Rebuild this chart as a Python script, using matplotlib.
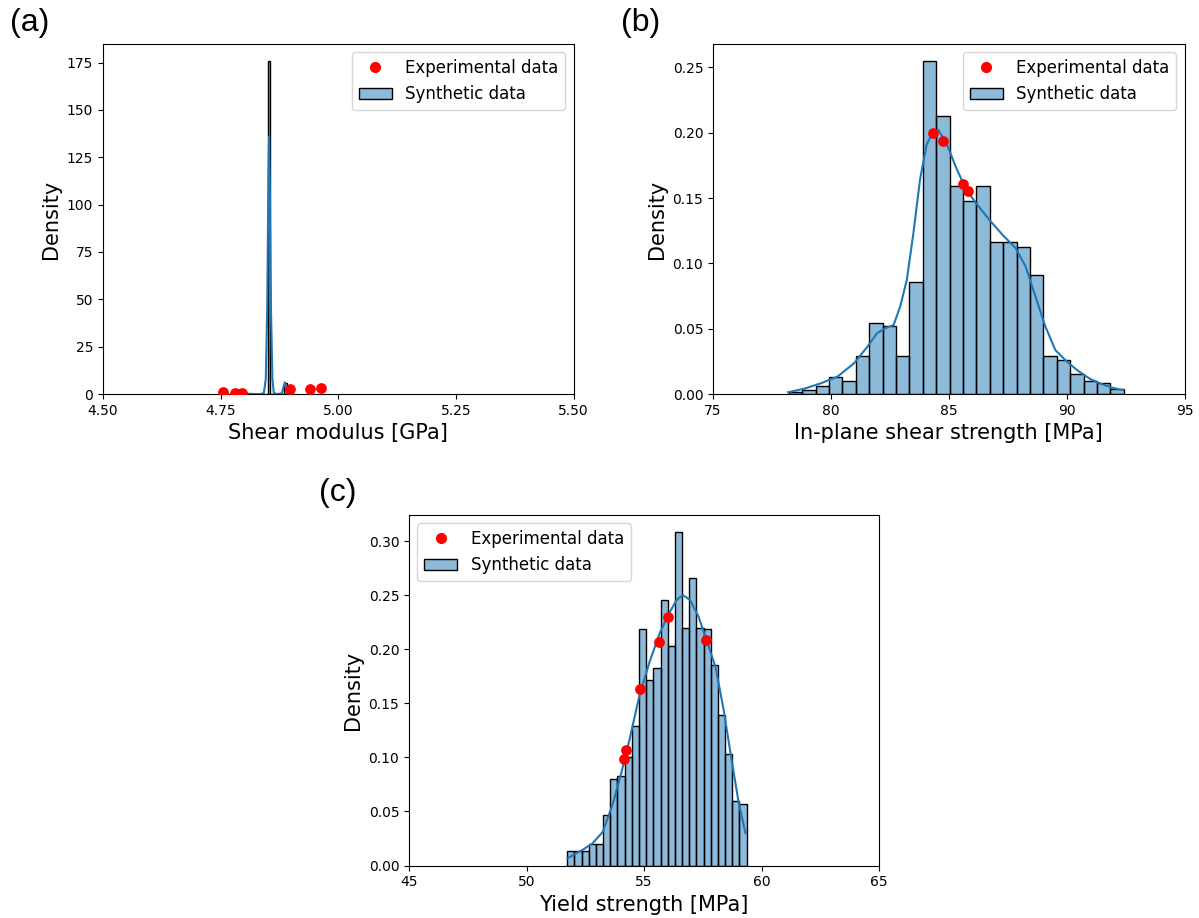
import numpy as np
import matplotlib
matplotlib.use("Agg")
import matplotlib.pyplot as plt
from matplotlib.patches import Patch
from matplotlib.lines import Line2D

# ---------------- data: panel (a) ----------------
a_bin_start = 4.7755
a_bin_width = 0.005
a_heights = [0.8, 0.9, 0.8, 0.7, 0.5, 0, 0, 0, 0, 0, 0, 0, 0, 0, 0, 176.0,
             0, 0, 0, 0, 0, 0, 5.6]
a_kde_x = [4.7755, 4.785, 4.795, 4.805, 4.82, 4.835, 4.842, 4.846, 4.849,
           4.8515, 4.853, 4.8545, 4.857, 4.860, 4.863, 4.870, 4.880, 4.884,
           4.8867, 4.889, 4.8905]
a_kde_y = [0.7, 0.8, 0.6, 0.2, 0.0, 0.0, 0.5, 8, 45, 112, 136, 112, 45, 8,
           0.5, 0.0, 0.3, 4, 6.2, 4, 2.5]
a_exp_x = [4.754, 4.780, 4.795, 4.898, 4.940, 4.964]
a_exp_y = [1.0, 0.4, 0.4, 2.8, 2.8, 3.0]
a_xticks = [4.50, 4.75, 5.00, 5.25, 5.50]
a_yticks = [0, 25, 50, 75, 100, 125, 150, 175]

# ---------------- data: panel (b) ----------------
b_bin_start = 78.22
b_bin_width = 0.568
b_heights = [0.0013, 0.0030, 0.0064, 0.0133, 0.0102, 0.0294, 0.0542, 0.0523,
             0.0294, 0.0856, 0.2552, 0.2125, 0.1596, 0.1474, 0.1596, 0.1160,
             0.1160, 0.1124, 0.0912, 0.0294, 0.0260, 0.0155, 0.0100, 0.0085,
             0.0035]
b_kde_x = [78.18, 78.88, 79.58, 80.28, 80.98, 81.54, 81.96, 82.31, 82.66,
           82.94, 83.22, 83.50, 83.78, 84.06, 84.34, 84.55, 84.90, 85.32,
           85.74, 86.16, 86.72, 87.28, 87.84, 88.26, 88.68, 89.10, 89.52,
           90.01, 90.5, 91.0, 91.5, 92.0, 92.4]
b_kde_y = [0.0013, 0.0041, 0.0082, 0.0133, 0.0235, 0.036, 0.0466, 0.0503,
           0.0528, 0.0669, 0.0873, 0.1231, 0.164, 0.1908, 0.201, 0.2023,
           0.1921, 0.173, 0.1563, 0.1461, 0.1334, 0.1219, 0.1116, 0.0976,
           0.0746, 0.0516, 0.0337, 0.0248, 0.0175, 0.0115, 0.0075, 0.0045,
           0.003]
b_exp_x = [84.34, 84.76, 85.60, 85.81]
b_exp_y = [0.1998, 0.1935, 0.161, 0.1557]
b_xticks = [75, 80, 85, 90, 95]
b_yticks = [0.00, 0.05, 0.10, 0.15, 0.20, 0.25]

# ---------------- data: panel (c) ----------------
c_bin_start = 51.735
c_bin_width = 0.3053
c_heights = [0.0134, 0.0134, 0.0134, 0.0199, 0.0199, 0.0468, 0.0798, 0.0832,
             0.100, 0.129, 0.219, 0.172, 0.183, 0.246, 0.203, 0.309, 0.2196,
             0.266, 0.2196, 0.219, 0.186, 0.139, 0.103, 0.0597, 0.0566]
c_kde_x = [51.74, 52.38, 52.81, 53.24, 53.67, 54.03, 54.38, 54.81, 55.24,
           55.67, 56.03, 56.39, 56.65, 56.96, 57.32, 57.68, 58.04, 58.39,
           58.75, 59.04, 59.32]
c_kde_y = [0.0067, 0.0144, 0.0205, 0.031, 0.057, 0.0853, 0.1162, 0.1578,
           0.1887, 0.215, 0.232, 0.2458, 0.2504, 0.2458, 0.2304, 0.2072,
           0.184, 0.144, 0.0946, 0.057, 0.0298]
c_exp_x = [54.13, 54.24, 54.84, 55.62, 56.00, 57.65]
c_exp_y = [0.0986, 0.107, 0.1634, 0.2072, 0.2304, 0.2088]
c_xticks = [45, 50, 55, 60, 65]
c_yticks = [0.00, 0.05, 0.10, 0.15, 0.20, 0.25, 0.30]

labels = ["Experimental data", "Synthetic data"]

# ---------------- styling ----------------
plt.rcParams['font.family'] = ['DejaVu Sans']
C0 = '#1f77b4'
FACE = (0.122, 0.467, 0.706, 0.5)

fig = plt.figure(figsize=(11.99, 9.18), dpi=100)
W, H = 1199, 918


def make_axes(left, top, right, bottom):
    return fig.add_axes([left / W, 1 - bottom / H, (right - left) / W, (bottom - top) / H])


def draw(ax, start, width, heights, kx, ky, ex, ey, xlim, xticks, yticks,
         xlabel, yfmt, legend_loc):
    n = len(heights)
    edges = start + width * np.arange(n + 1)
    ax.bar(edges[:-1], heights, width=width, align='edge', facecolor=FACE,
           edgecolor='black', linewidth=1.0)
    ax.plot(kx, ky, color=C0, lw=1.5)
    ax.scatter(ex, ey, color='red', s=45, zorder=5)
    ax.set_xlim(*xlim)
    ax.set_ylim(0, max(heights) * 1.05)
    ax.set_xticks(xticks)
    ax.set_yticks(yticks)
    ax.xaxis.set_major_formatter(plt.FormatStrFormatter(yfmt[0]))
    ax.yaxis.set_major_formatter(plt.FormatStrFormatter(yfmt[1]))
    ax.tick_params(labelsize=10)
    ax.set_xlabel(xlabel, fontsize=15)
    ax.set_ylabel("Density", fontsize=15)
    handles = [Line2D([], [], marker='o', color='red', linestyle='none', markersize=7),
               Patch(facecolor=FACE, edgecolor='black', linewidth=1.0)]
    ax.legend(handles, labels, loc=legend_loc, fontsize=12)


ax_a = make_axes(103, 44, 573.5, 394)
draw(ax_a, a_bin_start, a_bin_width, a_heights, a_kde_x, a_kde_y,
     a_exp_x, a_exp_y, (4.5, 5.5), a_xticks, a_yticks,
     "Shear modulus [GPa]", ('%.2f', '%d'), 'upper right')

ax_b = make_axes(713, 44, 1184.5, 394)
draw(ax_b, b_bin_start, b_bin_width, b_heights, b_kde_x, b_kde_y,
     b_exp_x, b_exp_y, (75, 95), b_xticks, b_yticks,
     "In-plane shear strength [MPa]", ('%d', '%.2f'), 'upper right')

ax_c = make_axes(409, 515, 879, 865.5)
draw(ax_c, c_bin_start, c_bin_width, c_heights, c_kde_x, c_kde_y,
     c_exp_x, c_exp_y, (45, 65), c_xticks, c_yticks,
     "Yield strength [MPa]", ('%d', '%.2f'), 'upper left')

lab_font = dict(fontsize=23, family=['Liberation Sans', 'DejaVu Sans'], va='top', ha='left')
fig.text(10 / W, 1 - 8 / H, "(a)", **lab_font)
fig.text(621 / W, 1 - 8 / H, "(b)", **lab_font)
fig.text(319 / W, 1 - 478 / H, "(c)", **lab_font)

fig.savefig("out.png", dpi=100)
